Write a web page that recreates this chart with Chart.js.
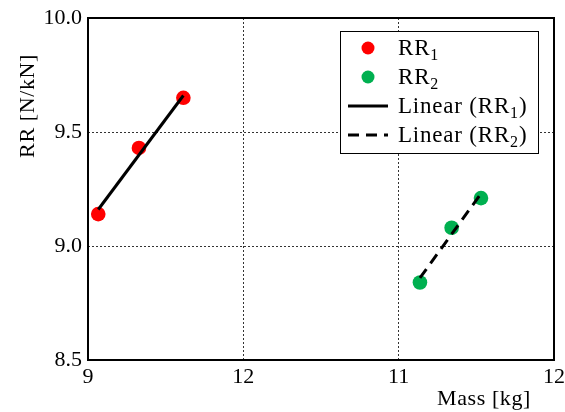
<!DOCTYPE html>
<html><head><meta charset="utf-8">
<script src="https://cdn.jsdelivr.net/npm/chart.js@4.4.1/dist/chart.umd.min.js"></script>
<style>html,body{margin:0;padding:0;background:#fff;}</style>
</head><body>
<canvas id="c" width="565" height="412"></canvas>
<script>
// ---- data ----
const xTickLabels = ['9', '12', '11', '12'];   // labels at the four equally spaced x ticks
const yMin = 8.5, yMax = 10.0, yStep = 0.5;
const rr1X = [0.066, 0.328, 0.614];            // positions in x-tick units
const rr1Y = [9.14, 9.43, 9.65];
const rr2X = [2.137, 2.341, 2.530];
const rr2Y = [8.84, 9.08, 9.21];
const fit1X = [0.066, 0.614];
const fit1Y = [9.16, 9.66];
const fit2X = [2.137, 2.530];
const fit2Y = [8.86, 9.23];
const seriesLabels = ['RR_1', 'RR_2', 'Linear (RR_1)', 'Linear (RR_2)'];
const xTitle = 'Mass [kg]';
const yTitle = 'RR [N/kN]';

const FONT = '"Liberation Serif", "DejaVu Serif", serif';
const FS = 22;
const pts = (xs, ys) => xs.map((x, i) => ({x, y: ys[i]}));

// draw text with "_n" subscripts
function drawRich(ctx, str, x, y, size) {
  const parts = str.split(/(_\d)/);
  ctx.textAlign = 'left';
  ctx.textBaseline = 'alphabetic';
  let cx = x;
  for (const p of parts) {
    if (!p) continue;
    if (p[0] === '_') {
      ctx.font = `${Math.round(size * 0.7)}px ${FONT}`;
      ctx.fillText(p.slice(1), cx, y + size * 0.22);
      cx += ctx.measureText(p.slice(1)).width;
    } else {
      ctx.font = `${size}px ${FONT}`;
      ctx.fillText(p, cx, y);
      cx += ctx.measureText(p).width;
    }
  }
}

const framePlugin = {
  id: 'frame',
  afterDatasetsDraw(chart) {
    const {ctx, chartArea: a} = chart;
    ctx.save();
    ctx.strokeStyle = '#000';
    ctx.lineWidth = 2;
    ctx.strokeRect(a.left, a.top, a.right - a.left, a.bottom - a.top);
    ctx.restore();
  }
};

const legendPlugin = {
  id: 'innerLegend',
  afterDatasetsDraw(chart) {
    const {ctx, chartArea: a} = chart;
    const w = 198, h = 122;
    const left = a.right - 16 - w, top = a.top + 13;
    ctx.save();
    ctx.fillStyle = '#fff';
    ctx.fillRect(left, top, w, h);
    ctx.strokeStyle = '#000';
    ctx.lineWidth = 1;
    ctx.strokeRect(left + 0.5, top + 0.5, w, h);
    chart.data.datasets.forEach((ds, i) => {
      const cy = top + 17 + i * 29;
      if (ds.showLine) {
        ctx.strokeStyle = ds.borderColor;
        ctx.lineWidth = ds.borderWidth;
        ctx.setLineDash(ds.borderDash || []);
        ctx.beginPath();
        ctx.moveTo(left + 8, cy);
        ctx.lineTo(left + 48, cy);
        ctx.stroke();
        ctx.setLineDash([]);
      } else {
        ctx.fillStyle = ds.backgroundColor;
        ctx.beginPath();
        ctx.arc(left + 28, cy, 6.5, 0, Math.PI * 2);
        ctx.fill();
      }
      ctx.fillStyle = '#000';
      ctx.letterSpacing = '0.8px';
      drawRich(ctx, ds.label, left + 58, cy + 7, 23);
      ctx.letterSpacing = '0px';
    });
    ctx.restore();
  }
};

const titlePlugin = {
  id: 'axisTitles',
  afterDraw(chart) {
    const {ctx, chartArea: a} = chart;
    ctx.save();
    ctx.fillStyle = '#000';
    ctx.font = `${FS}px ${FONT}`;
    ctx.letterSpacing = '0.6px';
    ctx.textAlign = 'right';
    ctx.textBaseline = 'middle';
    ctx.fillText(xTitle, a.right - 23, 399);
    ctx.translate(28, a.top + 88);
    ctx.rotate(-Math.PI / 2);
    ctx.textAlign = 'center';
    ctx.fillText(yTitle, 0, 0);
    ctx.restore();
  }
};

const gridColor = (ctx) => {
  const s = ctx.scale;
  return (ctx.tick && (ctx.tick.value === s.min || ctx.tick.value === s.max)) ? 'rgba(0,0,0,0)' : '#333';
};

new Chart(document.getElementById('c'), {
  type: 'scatter',
  data: {
    datasets: [
      {label: seriesLabels[0], data: pts(rr1X, rr1Y), backgroundColor: '#ff0000', borderColor: '#ff0000',
       pointRadius: 7.3, pointBorderWidth: 0, order: 2},
      {label: seriesLabels[1], data: pts(rr2X, rr2Y), backgroundColor: '#00b050', borderColor: '#00b050',
       pointRadius: 7.3, pointBorderWidth: 0, order: 2},
      {label: seriesLabels[2], data: pts(fit1X, fit1Y), showLine: true, borderColor: '#000', borderWidth: 3,
       pointRadius: 0, order: 0},
      {label: seriesLabels[3], data: pts(fit2X, fit2Y), showLine: true, borderColor: '#000', borderWidth: 3,
       borderDash: [11, 7], pointRadius: 0, order: 0}
    ]
  },
  options: {
    responsive: false,
    devicePixelRatio: 1,
    animation: false,
    layout: {padding: {top: 18, right: 11, left: 0, bottom: 0}},
    plugins: {legend: {display: false}, tooltip: {enabled: false}},
    scales: {
      x: {
        type: 'linear', min: 0, max: xTickLabels.length - 1,
        grid: {color: gridColor, lineWidth: 1, drawTicks: false},
        border: {display: false, dash: [2, 2]},
        ticks: {stepSize: 1, padding: 4, color: '#000', font: {family: FONT, size: FS},
                maxRotation: 0, autoSkip: false,
                callback: (v) => xTickLabels[Math.round(v)]},
        afterFit: (s) => { s.height = 52; s.paddingLeft = 0; s.paddingRight = 0; }
      },
      y: {
        type: 'linear', min: yMin, max: yMax,
        grid: {color: gridColor, lineWidth: 1, drawTicks: false},
        border: {display: false, dash: [2, 2]},
        ticks: {stepSize: yStep, padding: 6, color: '#000', font: {family: FONT, size: FS},
                callback: (v) => v.toFixed(1)},
        afterFit: (s) => { s.width = 88; s.paddingTop = 0; s.paddingBottom = 0; }
      }
    }
  },
  plugins: [framePlugin, legendPlugin, titlePlugin]
});
</script>
</body></html>
